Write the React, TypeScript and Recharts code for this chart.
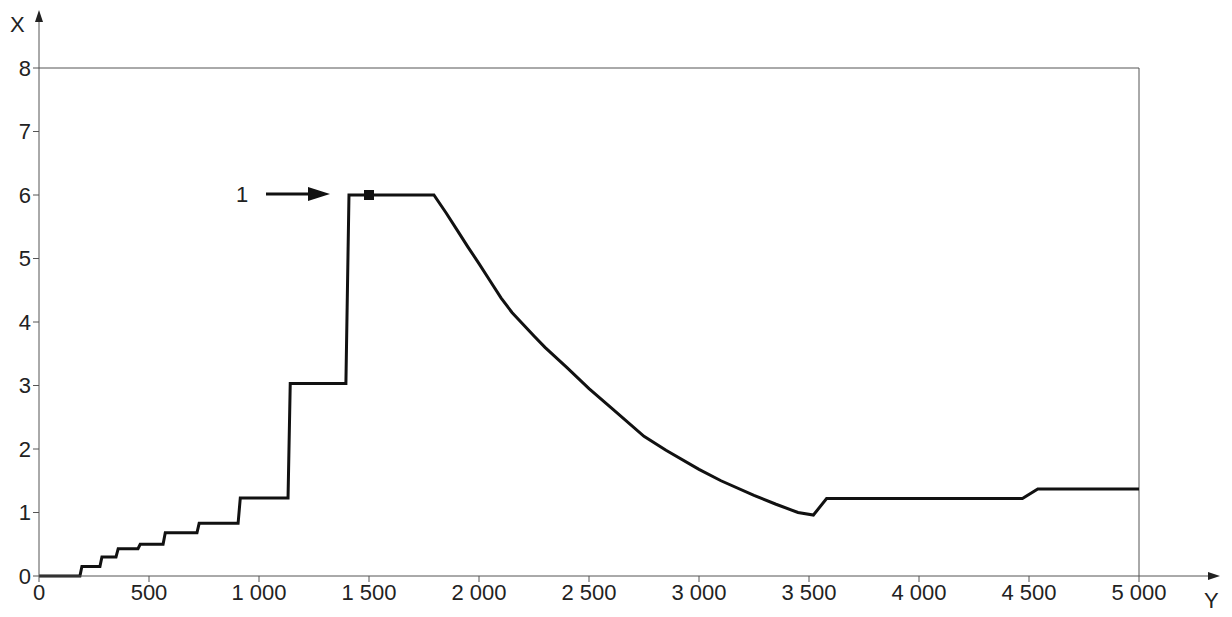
import { LineChart, Line, XAxis, YAxis, ReferenceDot, ReferenceLine } from "recharts";

const xTicks = [0, 500, 1000, 1500, 2000, 2500, 3000, 3500, 4000, 4500, 5000];
const xLabels = ["0", "500", "1 000", "1 500", "2 000", "2 500", "3 000", "3 500", "4 000", "4 500", "5 000"];
const yTicks = [0, 1, 2, 3, 4, 5, 6, 7, 8];

// curve points (Y along horizontal, X vertical as labelled in the figure)
const posY = [0, 186, 195, 277, 286, 350, 360, 450, 460, 564, 574, 718, 728, 905, 915, 1132, 1142, 1395, 1409, 1795, 1850, 1900, 1950, 2000, 2050, 2100, 2150, 2250, 2300, 2400, 2500, 2600, 2750, 2850, 3000, 3100, 3250, 3350, 3450, 3520, 3580, 4470, 4540, 5000];
const valX = [0, 0, 0.15, 0.15, 0.3, 0.3, 0.43, 0.43, 0.5, 0.5, 0.68, 0.68, 0.83, 0.83, 1.23, 1.23, 3.03, 3.03, 6.0, 6.0, 5.72, 5.45, 5.18, 4.92, 4.65, 4.38, 4.15, 3.78, 3.6, 3.28, 2.95, 2.65, 2.2, 1.98, 1.68, 1.5, 1.27, 1.13, 1.0, 0.96, 1.22, 1.22, 1.37, 1.37];

const data = posY.map((y, i) => ({ y, x: valX[i] }));
const font = "Liberation Sans, Arial, sans-serif";

export default function App() {
  return (
    <div style={{ position: "relative", width: 1216, height: 609, fontFamily: font }}>
      <LineChart width={1216} height={609} data={data} margin={{ top: 60, right: 85, bottom: 11, left: 0 }}>
        <XAxis
          dataKey="y"
          type="number"
          domain={[0, 5000]}
          ticks={xTicks}
          tickFormatter={(v: number) => xLabels[xTicks.indexOf(v)]}
          height={30}
          stroke="#555"
          tick={{ fill: "#222", fontSize: 22, fontFamily: font }}
          tickSize={6}
          interval={0}
        />
        <YAxis
          dataKey="x"
          type="number"
          domain={[0, 8]}
          ticks={yTicks}
          width={31}
          stroke="#555"
          tick={{ fill: "#222", fontSize: 22, fontFamily: font }}
          tickSize={6}
          interval={0}
        />
        <ReferenceLine y={8} stroke="#555" />
        <ReferenceLine x={5000} stroke="#555" />
        <Line dataKey="x" type="linear" stroke="#111" strokeWidth={3} dot={false} isAnimationActive={false} />
        <ReferenceDot x={1500} y={6} r={5} fill="#111" stroke="none"
          shape={(p: any) => <rect x={p.cx - 5} y={p.cy - 5} width={10} height={10} fill="#111" />} />
      </LineChart>
      <svg width={1216} height={609} style={{ position: "absolute", left: 0, top: 0, pointerEvents: "none" }}>
        <line x1={31} y1={60} x2={31} y2={6} stroke="#555" strokeWidth={1} />
        <polygon points="31,2 27,14 35,14" fill="#222" />
        <text x={2} y={24} fontSize={22} fill="#222" fontFamily={font}>X</text>
        <line x1={1131} y1={568} x2={1200} y2={568} stroke="#555" strokeWidth={1} />
        <polygon points="1212,568 1200,564 1200,572" fill="#222" />
        <text x={1196} y={600} fontSize={22} fill="#222" fontFamily={font}>Y</text>
        <text x={228} y={194} fontSize={22} fill="#222" fontFamily={font}>1</text>
        <line x1={258} y1={186} x2={302} y2={186} stroke="#111" strokeWidth={3} />
        <polygon points="322,186 300,179 300,193" fill="#111" />
      </svg>
    </div>
  );
}
